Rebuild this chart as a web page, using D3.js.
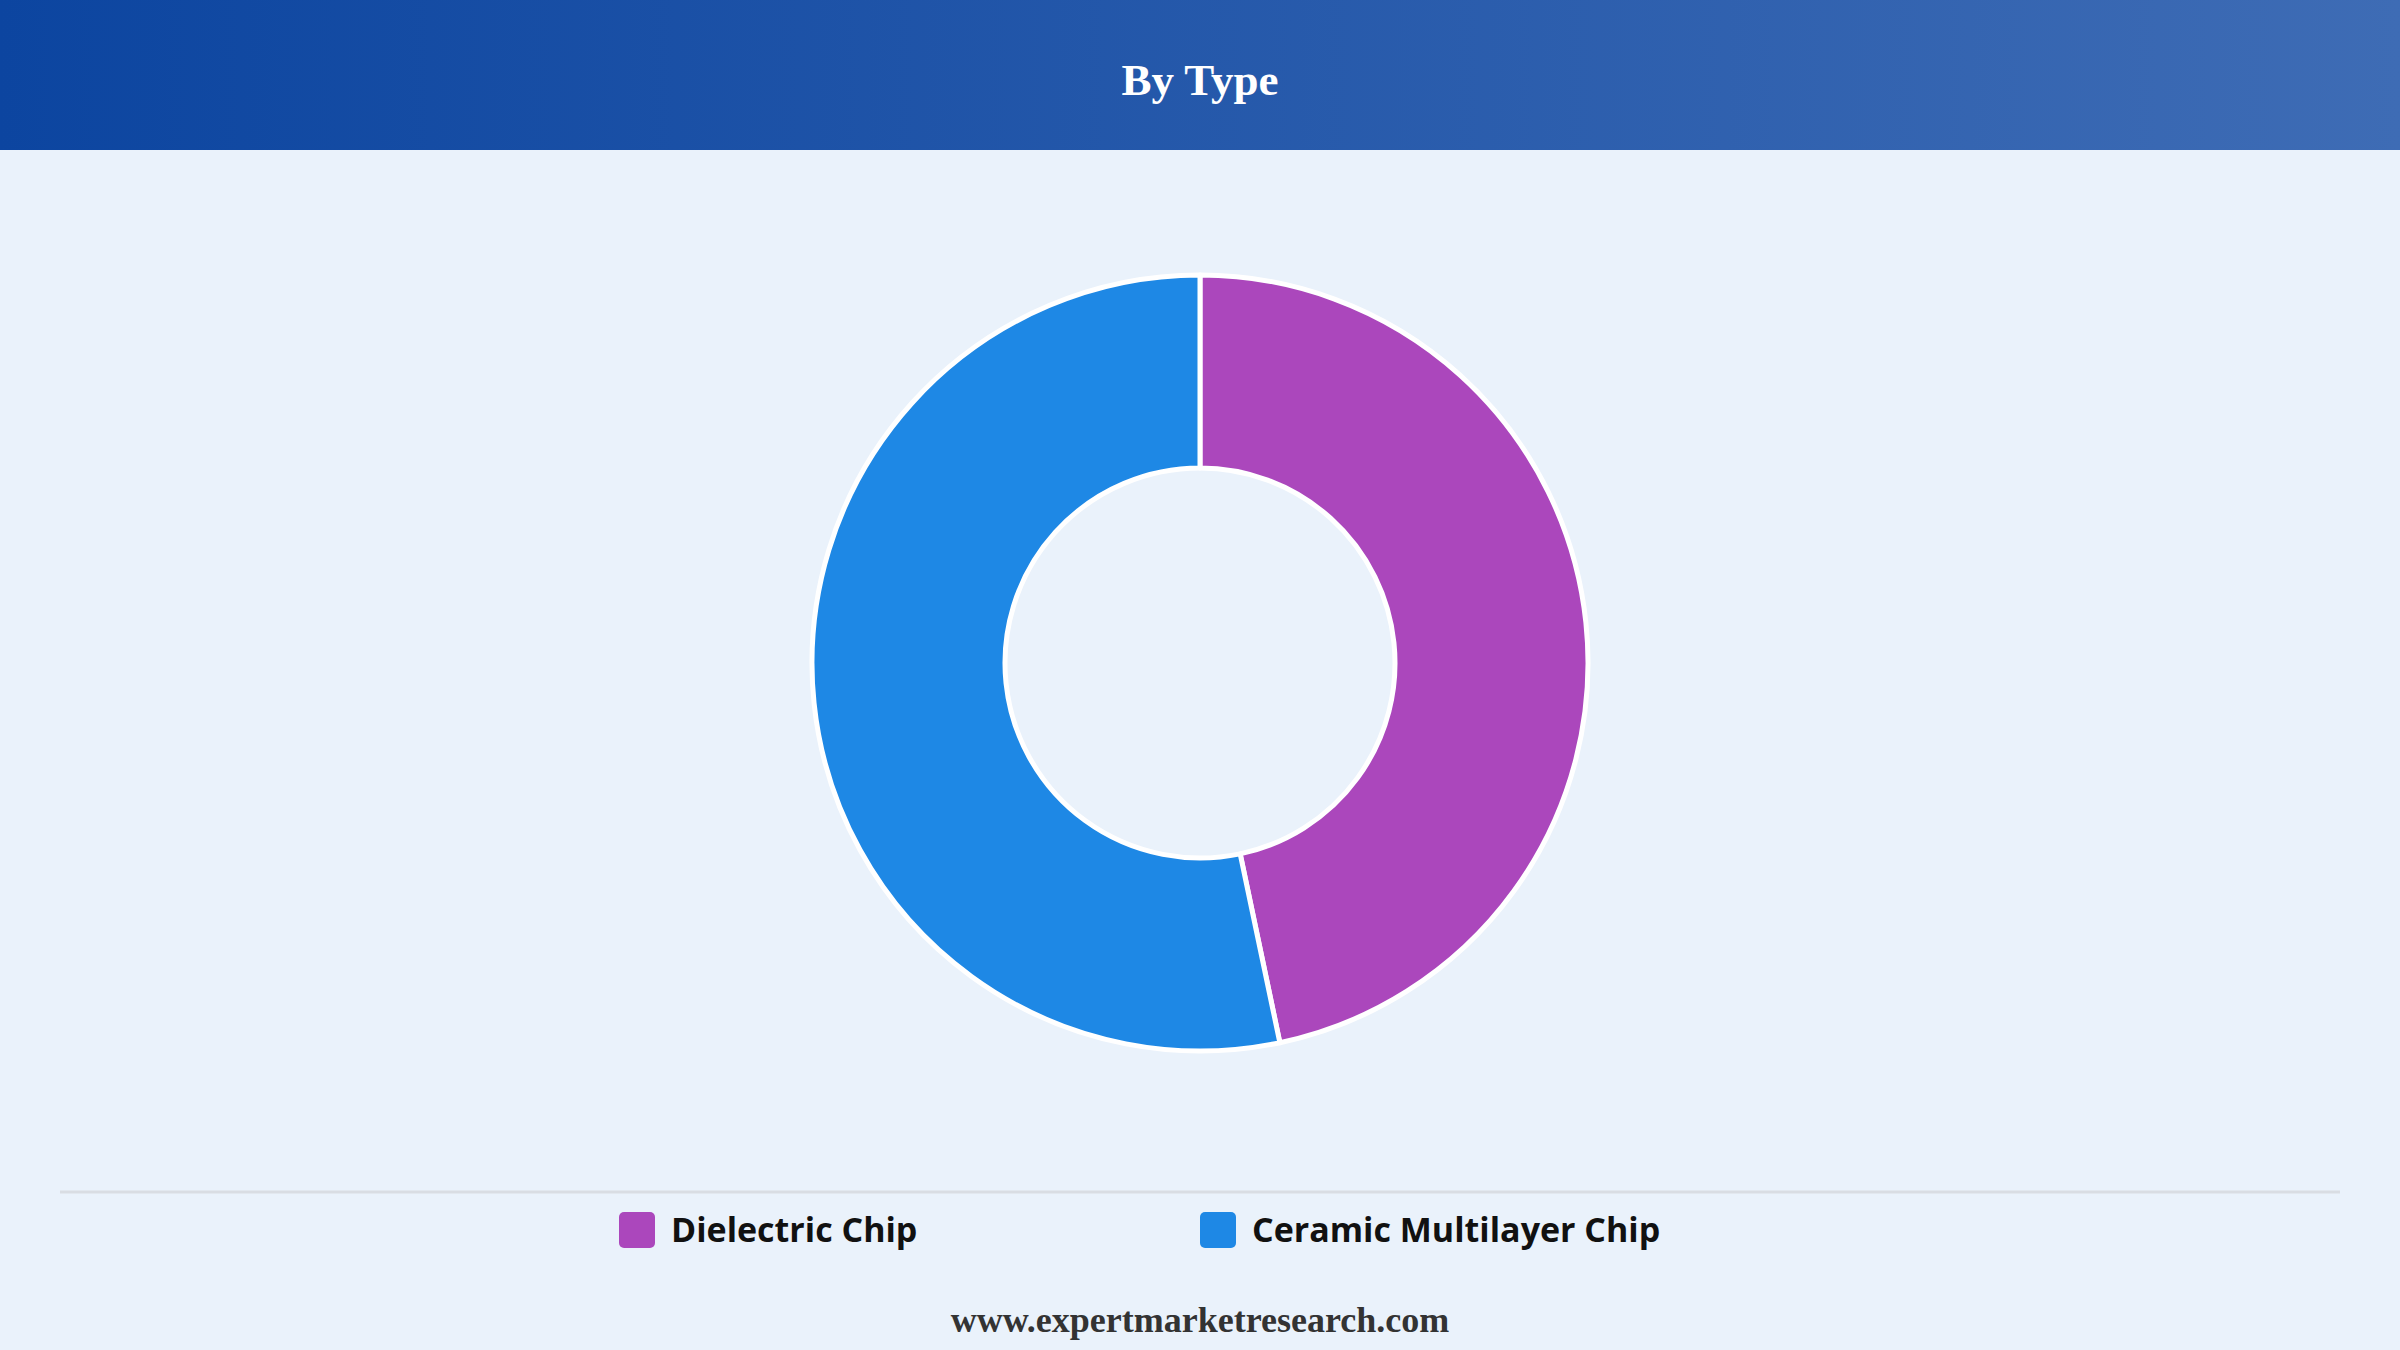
<!DOCTYPE html>
<html>
<head>
<meta charset="utf-8">
<script src="https://cdn.jsdelivr.net/npm/d3@7"></script>
<style>
  html, body { margin: 0; padding: 0; background: #eaf2fb; }
  svg { display: block; }
</style>
</head>
<body>
<svg id="chart" width="2400" height="1350"></svg>
<script>
const title = "By Type";
const categories = ["Dielectric Chip", "Ceramic Multilayer Chip"];
const values = [46.7, 53.3];
const colors = ["#ab47bc", "#1e88e5"];
const footer = "www.expertmarketresearch.com";

const W = 2400, H = 1350;
const svg = d3.select("#chart");

const defs = svg.append("defs");
const grad = defs.append("linearGradient").attr("id", "hdr").attr("x1", "0%").attr("x2", "100%");
grad.append("stop").attr("offset", "0%").attr("stop-color", "#0c45a0");
grad.append("stop").attr("offset", "100%").attr("stop-color", "#3e6cb5");

svg.append("rect").attr("width", W).attr("height", H).attr("fill", "#eaf2fb");
svg.append("rect").attr("width", W).attr("height", 150).attr("fill", "url(#hdr)");
svg.append("text").attr("x", W / 2).attr("y", 95).attr("text-anchor", "middle")
  .attr("font-family", "'Liberation Serif', 'Times New Roman', serif").attr("font-weight", "bold")
  .attr("font-size", 45).attr("fill", "#ffffff").text(title);

const cx = 1200, cy = 663;
const pie = d3.pie().sort(null).value(d => d)(values);
const arc = d3.arc().innerRadius(195).outerRadius(388);
svg.append("g").attr("transform", `translate(${cx},${cy})`)
  .selectAll("path").data(pie).join("path")
  .attr("d", arc)
  .attr("fill", (d, i) => colors[i])
  .attr("stroke", "#ffffff").attr("stroke-width", 5).attr("stroke-linejoin", "round");

svg.append("line").attr("x1", 60).attr("x2", 2340).attr("y1", 1192).attr("y2", 1192)
  .attr("stroke", "#d9dde3").attr("stroke-width", 3);

const legendX = [619, 1200];
const lg = svg.append("g").selectAll("g").data(categories).join("g")
  .attr("transform", (d, i) => `translate(${legendX[i]},1212)`);
lg.append("rect").attr("width", 36).attr("height", 36).attr("rx", 5).attr("fill", (d, i) => colors[i]);
lg.append("text").attr("x", 52).attr("y", 30)
  .attr("font-family", "'Open Sans', 'Noto Sans', sans-serif").attr("font-weight", "bold")
  .attr("font-size", 34).attr("fill", "#111111").text(d => d);

svg.append("text").attr("x", W / 2).attr("y", 1332).attr("text-anchor", "middle")
  .attr("font-family", "'Liberation Serif', 'Times New Roman', serif").attr("font-weight", "bold")
  .attr("font-size", 36).attr("fill", "#333333").text(footer);
</script>
</body>
</html>
